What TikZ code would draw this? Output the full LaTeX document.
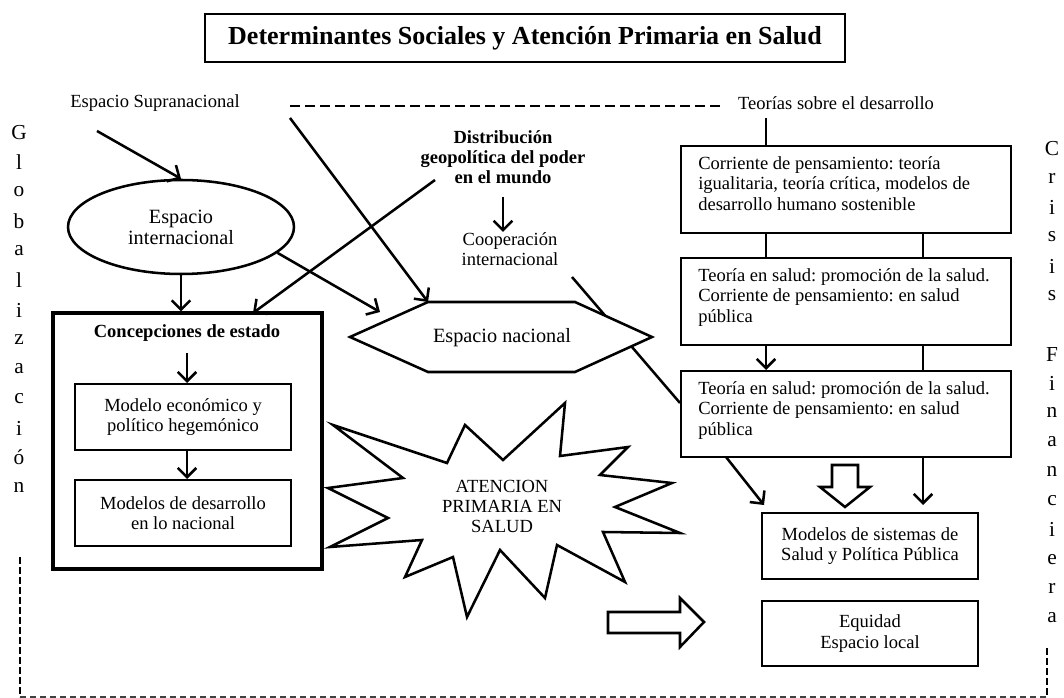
\documentclass[tikz,border=0pt]{standalone}
\usepackage{fontspec}
\setmainfont{Liberation Serif}
\usetikzlibrary{arrows.meta,shapes.geometric,fit}
\frenchspacing
\begin{document}
\begin{tikzpicture}[x=0.75pt,y=-0.75pt,
  conn/.style={line width=1.9pt},
  arr/.style={conn,-{Straight Barb[length=7pt,width=14pt]}},
  box/.style={draw,line width=1.5pt,inner sep=0pt},
  txt/.style={font=\fontsize{13.9}{15.4}\selectfont,inner sep=0pt},
  btxt/.style={font=\fontsize{13.9}{14.8}\selectfont\bfseries,inner sep=0pt},
  mtxt/.style={font=\fontsize{15.2}{15.8}\selectfont,inner sep=0pt},
  vlet/.style={font=\fontsize{16}{18}\selectfont,inner sep=0pt},
  topdash/.style={line width=1.5pt,dash pattern=on 7.5pt off 3.75pt},
  sidedash/.style={line width=2.2pt,dash pattern=on 5pt off 2.5pt},
  botdash/.style={line width=0.9pt,draw=black!75,dash pattern=on 4.5pt off 3pt},
  hollow/.style={line width=1.9pt,fill=white,line join=miter}
]
\useasboundingbox (0,0) rectangle (1064,698);

% title
\node[box,fit={(205,14) (845,62)}] (title) {};
\node[font=\fontsize{19.5}{22}\selectfont\bfseries,inner sep=0pt] (titlet) at (title.center) {Determinantes Sociales y Atención Primaria en Salud};

% top labels
\node[txt] (sup) at (155,103) {Espacio Supranacional};
\node[txt] (teo) at (836,103) {Teorías sobre el desarrollo};
\coordinate (d1) at (290,106);
\coordinate (d2) at (720,106);
\draw[topdash] (d1) -- (d2);

% vertical words
\foreach \ch [count=\k from 0] in {G,l,o,b,a,l,i,z,a,c,i,ó,n}
  \node[vlet] (gl\k) at (19,{133+29.5*\k}) {\ch};
\foreach \ch [count=\k from 0] in {C,r,i,s,i,s}
  \node[vlet] (cr\k) at (1052,{149+29.3*\k}) {\ch};
\foreach \ch [count=\k from 7] in {F,i,n,a,n,c,i,e,r,a}
  \node[vlet] (fi\k) at (1052,{149+29.3*\k}) {\ch};

% frame dashed
\coordinate (fl1) at (20,557);
\coordinate (fl2) at (20,697);
\coordinate (fr1) at (1047,648);
\coordinate (fr2) at (1047,697);
\draw[botdash] (fl2) -- (fr2);
\draw[sidedash] (fl1) -- (fl2);
\draw[sidedash] (fr1) -- (fr2);

% ellipse
\node[draw,ellipse,line width=1.9pt,minimum width=169.5pt,minimum height=70.5pt,inner sep=0pt,align=center,mtxt] (ell) at (181,227) {Espacio\\internacional};
\coordinate (s1) at (97,131);
\draw[arr] (s1) -- (ell.north);

% Concepciones de estado
\node[draw,line width=2.3pt,inner sep=0pt,fit={(53,313) (322,569)}] (conc) {};
\node[btxt] (conct) at (187,333) {Concepciones de estado};
\node[box,fit={(75,384) (291,450)}] (me) {};
\node[txt,align=center] (met) at (me.center) {Modelo económico y\\político hegemónico};
\node[box,fit={(75,480) (291,546)}] (md) {};
\node[txt,align=center] (mdt) at (md.center) {Modelos de desarrollo\\en lo nacional};
\coordinate (c1) at (187,353);
\draw[arr] (c1) -- (c1 |- me.north);
\draw[arr] (me.south -| c1) -- (md.north -| c1);
\draw[arr] (ell.south) -- (ell.south |- conc.north);

% distribucion / cooperacion
\node[btxt,align=center] (dist) at (503,157) {Distribución\\geopolítica del poder\\en el mundo};
\node[txt,align=center] (coop) at (510,249) {Cooperación\\internacional};
\coordinate (ds) at (503,197);
\draw[arr] (ds) -- (ds |- coop.north);
\coordinate (dl) at (435,180);
\coordinate (ct) at (253,313);
\draw[arr] (dl) -- (ct);

% right column boxes
\node[box,fit={(681,146) (1011,233)}] (b1) {};
\node[txt,anchor=north west,align=left] (b1t) at (698,156) {Corriente de pensamiento: teoría\\igualitaria, teoría crítica, modelos de\\desarrollo humano sostenible};
\node[box,fit={(681,258) (1011,345)}] (b2) {};
\node[txt,anchor=north west,align=left] (b2t) at (698,268) {Teoría en salud: promoción de la salud.\\Corriente de pensamiento: en salud\\pública};
\node[box,fit={(681,371) (1011,457)}] (b3) {};
\node[txt,anchor=north west,align=left] (b3t) at (698,381) {Teoría en salud: promoción de la salud.\\Corriente de pensamiento: en salud\\pública};
\node[box,fit={(762,513) (978,579)}] (ms) {};
\node[txt,align=center] (mst) at (ms.center) {Modelos de sistemas de\\Salud y Política Pública};
\node[box,fit={(762,601) (978,666)}] (eq) {};
\node[txt,align=center] (eqt) at (eq.center) {Equidad\\Espacio local};

\coordinate (t1) at (766,118);
\coordinate (t2) at (923,118);
\draw[conn] (t1) -- (t1 |- b1.north);
\draw[conn] (b1.south -| t1) -- (b2.north -| t1);
\draw[conn] (b1.south -| t2) -- (b2.north -| t2);
\draw[arr] (b2.south -| t1) -- (b3.north -| t1);
\draw[conn] (b2.south -| t2) -- (b3.north -| t2);
\coordinate (a1) at (726,457);
\coordinate (a2) at (764,505);
\draw[arr] (a1) -- (a2);
\coordinate (a3) at (923,505);
\draw[arr] (b3.south -| a3) -- (a3);
\draw[hollow] (832,465) -- (858,465) -- (858,487) -- (870,487) -- (845,507) -- (820,487) -- (832,487) -- cycle;

% cooperation line (behind hexagon)
\coordinate (co1) at (572,277);
\draw[conn] (co1) -- (b3.west |- 0,403);

% hexagon
\coordinate (h1) at (428,302);
\coordinate (h2) at (575,302);
\coordinate (h3) at (652,337);
\coordinate (h4) at (575,372);
\coordinate (h5) at (428,372);
\coordinate (h6) at (350,337);
\draw[conn,fill=white,line join=miter] (h1) -- (h2) -- (h3) -- (h4) -- (h5) -- (h6) -- cycle;
\node[mtxt] (hex) at (502,338) {Espacio nacional};
\coordinate (l1) at (290,118);
\draw[arr] (l1) -- (h1);
\coordinate (e1) at (380,312);
\draw[arr] (ell.-15) -- (e1);

% starburst
\draw[conn,fill=white,line join=miter] (333,425) -- (447,463) -- (465,425) -- (503,460) -- (565,403) -- (560,456) -- (628,447) -- (600,475) -- (672,483) -- (615,507) -- (680,533) -- (603,532) -- (625,582) -- (557,545) -- (545,598) -- (500,550) -- (467,617) -- (453,557) -- (405,577) -- (422,540) -- (330,547) -- (388,518) -- (328,488) -- (403,478) -- cycle;
\node[txt,align=center,font=\fontsize{13.9}{15}\selectfont] (aps) at (502,506) {ATENCION\\PRIMARIA EN\\SALUD};

% hollow right arrow
\draw[hollow] (608,612) -- (680,612) -- (680,598) -- (704,622) -- (680,647) -- (680,633) -- (608,633) -- cycle;
\end{tikzpicture}
\end{document}
